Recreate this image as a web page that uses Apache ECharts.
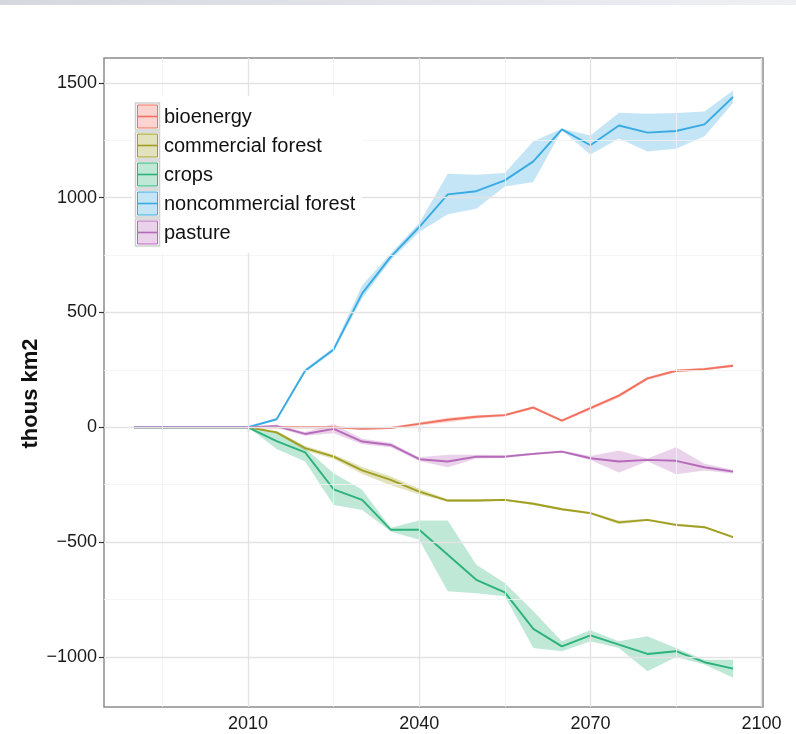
<!DOCTYPE html>
<html>
<head>
<meta charset="utf-8">
<script src="https://cdn.jsdelivr.net/npm/echarts@6/dist/echarts.min.js"></script>
<style>
  html, body { margin: 0; padding: 0; background: #ffffff; }
  #chart { width: 796px; height: 734px; }
</style>
</head>
<body>
<div id="chart"></div>
<script>
// Land-use change by category, thousand km2, 1990-2095 (mean with uncertainty band)
const years = [1990, 1995, 2000, 2005, 2010, 2015, 2020, 2025, 2030, 2035, 2040,
               2045, 2050, 2055, 2060, 2065, 2070, 2075, 2080, 2085, 2090, 2095];

const categories = ['bioenergy', 'commercial forest', 'crops', 'noncommercial forest', 'pasture'];

const bioenergyMean = [0, 0, 0, 0, 0, 0, 0, 0, -7, -3, 15, 33, 46, 53, 86, 29, 83, 138, 213, 246, 253, 268];
const bioenergyLow  = [0, 0, 0, 0, 0, -3, -3, -3, -10, -6, 8, 22, 38, 47, 80, 24, 75, 130, 206, 240, 247, 262];
const bioenergyHigh = [0, 0, 0, 0, 0, 3, 3, 3, -4, 0, 22, 42, 52, 58, 92, 34, 90, 145, 219, 252, 259, 274];

const commForestMean = [0, 0, 0, 0, 0, -22, -91, -128, -188, -229, -280, -319, -319, -316, -333, -357, -374, -414, -403, -425, -435, -478];
const commForestLow  = [0, 0, 0, 0, 0, -28, -101, -138, -203, -252, -292, -325, -325, -321, -338, -362, -379, -422, -408, -431, -440, -482];
const commForestHigh = [0, 0, 0, 0, 0, -16, -81, -118, -173, -213, -268, -313, -313, -311, -328, -352, -369, -406, -398, -419, -430, -474];

const cropsMean = [0, 0, 0, 0, 0, -60, -109, -270, -316, -446, -446, -555, -664, -719, -878, -954, -906, -946, -987, -975, -1023, -1051];
const cropsLow  = [0, 0, 0, 0, 0, -95, -149, -338, -360, -454, -490, -714, -723, -736, -961, -975, -932, -961, -1062, -1000, -1033, -1091];
const cropsHigh = [0, 0, 0, 0, 0, -25, -91, -200, -272, -438, -406, -406, -599, -678, -801, -932, -884, -932, -910, -961, -1012, -1012];

const nonCommMean = [0, 0, 0, 0, 0, 35, 246, 339, 583, 742, 872, 1014, 1028, 1075, 1158, 1297, 1228, 1314, 1283, 1290, 1319, 1438];
const nonCommLow  = [0, 0, 0, 0, 0, 30, 238, 329, 561, 727, 850, 928, 952, 1049, 1068, 1293, 1188, 1257, 1201, 1213, 1267, 1412];
const nonCommHigh = [0, 0, 0, 0, 0, 40, 254, 349, 619, 757, 889, 1104, 1100, 1107, 1246, 1300, 1271, 1370, 1365, 1368, 1375, 1467];

const pastureMean = [0, 0, 0, 0, 0, 5, -29, -7, -62, -77, -139, -149, -128, -128, -116, -106, -135, -149, -142, -146, -174, -193];
const pastureLow  = [0, 0, 0, 0, 0, -2, -37, -26, -74, -87, -147, -174, -136, -134, -121, -111, -142, -197, -148, -204, -188, -201];
const pastureHigh = [0, 0, 0, 0, 0, 12, -21, 14, -50, -67, -131, -120, -120, -122, -111, -101, -125, -101, -136, -87, -159, -185];

const xTickLabels = [2010, 2040, 2070, 2100];
const xMinorGrid = [1995, 2025, 2055, 2085];
const yTickLabels = [-1000, -500, 0, 500, 1000, 1500];
const yMinorGrid = [-750, -250, 250, 750, 1250];

const means = [bioenergyMean, commForestMean, cropsMean, nonCommMean, pastureMean];
const lows  = [bioenergyLow, commForestLow, cropsLow, nonCommLow, pastureLow];
const highs = [bioenergyHigh, commForestHigh, cropsHigh, nonCommHigh, pastureHigh];

const colors = ['#f2705f', '#a09f22', '#2cb27a', '#3aaae2', '#b66aba'];
const FONT = '"Liberation Sans", Arial, Helvetica, sans-serif';

function hexA(hex, a) {
  const n = parseInt(hex.slice(1), 16);
  return 'rgba(' + (n >> 16) + ',' + ((n >> 8) & 255) + ',' + (n & 255) + ',' + a + ')';
}
const pairs = (arr) => years.map((y, i) => [y, arr[i]]);

const series = [];

// panel grid lines (major + minor), drawn beneath everything
const majorLine = { color: '#e3e3e3', width: 1.3, type: 'solid' };
const minorLine = { color: '#f2f2f2', width: 0.8, type: 'solid' };
series.push({
  type: 'line',
  data: [],
  silent: true,
  z: 1,
  markLine: {
    silent: true,
    symbol: ['none', 'none'],
    label: { show: false },
    animation: false,
    data: [].concat(
      yMinorGrid.map(v => ({ yAxis: v, lineStyle: minorLine })),
      xMinorGrid.map(v => ({ xAxis: v, lineStyle: minorLine })),
      yTickLabels.map(v => ({ yAxis: v, lineStyle: majorLine })),
      xTickLabels.map(v => ({ xAxis: v, lineStyle: majorLine }))
    )
  }
});

// uncertainty ribbons: one polygon per category, upper edge then lower edge back
categories.forEach((name, i) => {
  series.push({
    type: 'custom',
    silent: true,
    z: 2,
    data: years.map((y, k) => [y, lows[i][k], highs[i][k]]),
    encode: { x: 0, y: [1, 2] },
    renderItem: (params, api) => {
      if (params.dataIndex !== 0) return null;
      const count = params.dataInsideLength;
      const upper = [], lower = [];
      for (let k = 0; k < count; k++) {
        const x = api.value(0, k);
        upper.push(api.coord([x, api.value(2, k)]));
        lower.push(api.coord([x, api.value(1, k)]));
      }
      return {
        type: 'polygon',
        shape: { points: upper.concat(lower.reverse()) },
        style: { fill: hexA(colors[i], 0.3) }
      };
    }
  });
});

// mean lines
categories.forEach((name, i) => {
  series.push({
    name: name,
    type: 'line',
    data: pairs(means[i]),
    symbol: 'none',
    lineStyle: { color: colors[i], width: 1.9 },
    z: 3
  });
});

// legend keys and labels
const legendItems = [{
  type: 'rect',
  shape: { x: 132, y: 96, width: 230, height: 157 },
  style: { fill: '#ffffff' },
  z: 10
}];
categories.forEach((name, i) => {
  const top = 103 + i * 29;
  legendItems.push({
    type: 'rect',
    shape: { x: 135.5, y: top, width: 24, height: 27 },
    style: { fill: '#ffffff', stroke: '#cfcfcf', lineWidth: 1.5 },
    z: 11
  });
  legendItems.push({
    type: 'rect',
    shape: { x: 137.5, y: top + 2, width: 20, height: 23 },
    style: { fill: hexA(colors[i], 0.3), stroke: colors[i], lineWidth: 1 },
    z: 12
  });
  legendItems.push({
    type: 'line',
    shape: { x1: 137.5, y1: top + 13.5, x2: 157.5, y2: top + 13.5 },
    style: { stroke: colors[i], lineWidth: 1.6 },
    z: 13
  });
  legendItems.push({
    type: 'text',
    x: 164,
    y: top + 14,
    style: {
      text: name,
      font: '20px ' + FONT,
      fill: '#111111',
      verticalAlign: 'middle'
    },
    z: 13
  });
});

// thin header band across the very top
legendItems.push({
  type: 'rect',
  shape: { x: 0, y: 0, width: 796, height: 5 },
  style: {
    fill: new echarts.graphic.LinearGradient(0, 0, 1, 0, [
      { offset: 0, color: '#d6d8e0' },
      { offset: 1, color: '#eef0f4' }
    ])
  },
  z: 20
});

const axisLabelStyle = { fontSize: 18, color: '#1a1a1a', fontFamily: FONT };

const option = {
  backgroundColor: '#ffffff',
  animation: false,
  grid: {
    left: 104, right: 33, top: 58, bottom: 27,
    show: true,
    backgroundColor: 'transparent',
    borderColor: '#8c8c8c',
    borderWidth: 1.5
  },
  xAxis: {
    type: 'value',
    min: 1984.75,
    max: 2100.25,
    axisLine: { show: false },
    axisTick: { show: true, customValues: xTickLabels, length: 5, lineStyle: { color: '#333333', width: 1.2 } },
    axisLabel: Object.assign({ customValues: xTickLabels, margin: 8, formatter: v => String(v) }, axisLabelStyle),
    splitLine: { show: false }
  },
  yAxis: {
    type: 'value',
    min: -1218,
    max: 1608,
    name: 'thous km2',
    nameLocation: 'middle',
    nameGap: 62,
    nameMoveOverlap: false,
    nameRotate: 90,
    nameTextStyle: { fontSize: 22, fontWeight: 'bold', color: '#111111', fontFamily: FONT,
      padding: [0, 22, 0, 0] },
    axisLine: { show: false },
    axisTick: { show: true, customValues: yTickLabels, length: 5, lineStyle: { color: '#333333', width: 1.2 } },
    axisLabel: Object.assign({ customValues: yTickLabels, margin: 7,
      formatter: v => (v < 0 ? '\u2212' + Math.abs(v) : String(v)) }, axisLabelStyle),
    splitLine: { show: false }
  },
  graphic: { elements: legendItems },
  series: series
};

const chart = echarts.init(document.getElementById('chart'));
chart.setOption(option);
</script>
</body>
</html>
